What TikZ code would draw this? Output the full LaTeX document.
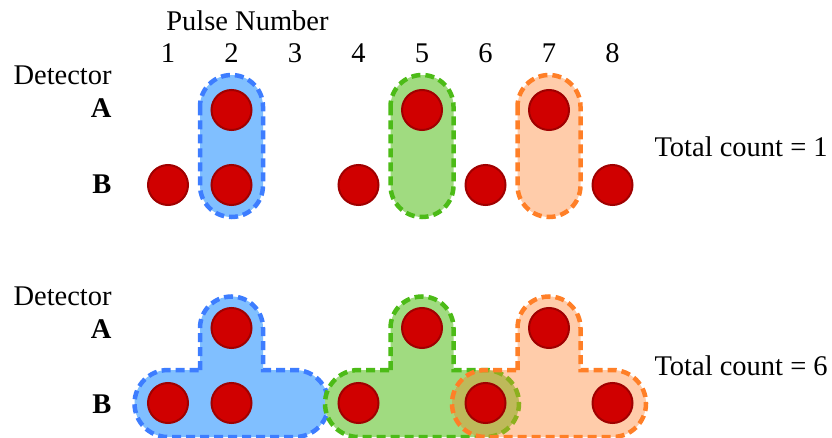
\documentclass[tikz,border=0pt]{standalone}
\usepackage{fontspec}
\setmainfont{Liberation Serif}
\usetikzlibrary{calc}
\definecolor{dotred}{RGB}{208,0,0}
\definecolor{dotedge}{RGB}{160,0,0}
\definecolor{bluefill}{RGB}{128,191,255}
\definecolor{blueline}{RGB}{61,125,255}
\definecolor{greenfill}{RGB}{160,219,128}
\definecolor{greenline}{RGB}{76,187,23}
\definecolor{orangefill}{RGB}{255,204,170}
\definecolor{orangeline}{RGB}{255,127,39}
\definecolor{olivefill}{RGB}{190,185,90}
\definecolor{oliveline}{RGB}{140,176,30}
\tikzset{
  dot/.style={circle,fill=dotred,draw=dotedge,line width=2pt,minimum size=40pt,inner sep=0pt},
  txt/.style={anchor=base,font=\fontsize{28.5}{34}\selectfont},
  rowlab/.style={anchor=base east,font=\fontsize{28.5}{34}\selectfont\bfseries},
  dashline/.style={line width=4.5pt,dash pattern=on 9pt off 5pt}
}
% T shaped window: #1 options, #2 left column x, #3 middle column x, #4 right column x
\newcommand{\teepath}[4]{
\path[#1] (#3-31.5,370) -- (#3-31.5,328) arc[start angle=180,end angle=360,radius=31.5]
  -- (#3+31.5,370) -- (#4,370) arc[start angle=270,end angle=450,radius=33.5]
  -- (#2,437) arc[start angle=90,end angle=270,radius=33.5] -- cycle;
}
\begin{document}
\begin{tikzpicture}[x=1pt,y=-1pt]
\useasboundingbox (0,0) rectangle (832,438);
\node[txt] (pulse) at (247.5,31) {Pulse Number};
\foreach \n in {1,...,8}
  \node[txt] (num\n) at ({168+63.5*(\n-1)},63) {\n};
\node[txt,anchor=base west] (dettop) at (10,85) {Detector};
\node[rowlab] (tA) at (115,118) {A};
\node[rowlab] (tB) at (115,194) {B};
\node[txt,anchor=base west] (tottop) at (651,157) {Total count = 1};
\node[txt,anchor=base west] (detbot) at (10,305) {Detector};
\node[rowlab] (bA) at (115,338) {A};
\node[rowlab] (bB) at (115,413) {B};
\node[txt,anchor=base west] (totbot) at (651,375) {Total count = 6};
\draw[fill=bluefill,draw=blueline,dashline,rounded corners=31.5pt] (200,75) rectangle (263,217);
\draw[fill=greenfill,draw=greenline,dashline,rounded corners=31.5pt] (390.5,75) rectangle (453.5,217);
\draw[fill=orangefill,draw=orangeline,dashline,rounded corners=31.5pt] (517.5,75) rectangle (580.5,217);
\teepath{fill=bluefill,draw=blueline,dashline}{168}{231.5}{295}
\teepath{fill=greenfill,draw=greenline,dashline}{358.5}{422}{485.5}
\teepath{fill=orangefill}{485.5}{549}{612.5}
\begin{scope}
\teepath{clip}{485.5}{549}{612.5}
\teepath{fill=olivefill,draw=oliveline,dashline}{358.5}{422}{485.5}
\end{scope}
\teepath{draw=orangeline,dashline}{485.5}{549}{612.5}
\foreach \c in {2,5,7} {
  \node[dot] (tA\c) at ({168+63.5*(\c-1)},110) {};
  \node[dot] (bA\c) at ({168+63.5*(\c-1)},328) {};
}
\foreach \c in {1,2,4,6,8} {
  \node[dot] (tB\c) at ({168+63.5*(\c-1)},185) {};
  \node[dot] (bB\c) at ({168+63.5*(\c-1)},403) {};
}
\end{tikzpicture}
\end{document}
